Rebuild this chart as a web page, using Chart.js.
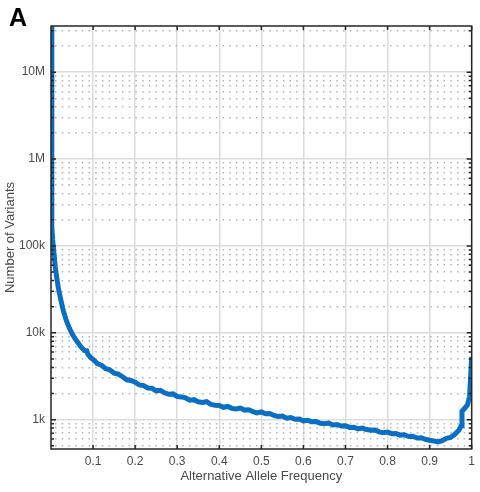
<!DOCTYPE html>
<html>
<head>
<meta charset="utf-8">
<script src="https://cdn.jsdelivr.net/npm/chart.js@4/dist/chart.umd.min.js"></script>
<style>
  html, body { margin: 0; padding: 0; background: #fff; }
  #wrap { width: 480px; height: 492px; position: relative; }
</style>
</head>
<body>
<div id="wrap"><canvas id="chart"></canvas></div>
<script>
'use strict';

// ─── Data ─────────────────────────────────────────────────────────────────────
const PANEL_LABEL = 'A';
const X_TITLE     = 'Alternative Allele Frequency';
const Y_TITLE     = 'Number of Variants';

const xTicks      = [0.1, 0.2, 0.3, 0.4, 0.5, 0.6, 0.7, 0.8, 0.9, 1];
const xTickLabels = ['0.1', '0.2', '0.3', '0.4', '0.5', '0.6', '0.7', '0.8', '0.9', '1'];
const yTicks      = [1e3, 1e4, 1e5, 1e6, 1e7];
const yTickLabels = ['1k', '10k', '100k', '1M', '10M'];
const yMinorTicks = [
  500, 600, 700, 800, 900,
  2e3, 3e3, 4e3, 5e3, 6e3, 7e3, 8e3, 9e3,
  2e4, 3e4, 4e4, 5e4, 6e4, 7e4, 8e4, 9e4,
  2e5, 3e5, 4e5, 5e5, 6e5, 7e5, 8e5, 9e5,
  2e6, 3e6, 4e6, 5e6, 6e6, 7e6, 8e6, 9e6,
  2e7, 3e7,
];

// allele frequency (x) and number of variants (y)
const freqs = [
  0, 0.002, 0.004, 0.006, 0.008, 0.010, 0.0125, 0.015, 0.0175, 0.020,
  0.0225, 0.025, 0.0275, 0.030, 0.035, 0.040, 0.045, 0.050, 0.055, 0.060,
  0.065, 0.070, 0.075, 0.080, 0.085, 0.087, 0.090, 0.095,
  0.10, 0.11, 0.12, 0.13, 0.14, 0.15, 0.16, 0.17, 0.18, 0.19,
  0.20, 0.21, 0.22, 0.23, 0.24, 0.25, 0.26, 0.27, 0.28, 0.29,
  0.30, 0.31, 0.32, 0.33, 0.34, 0.35, 0.36, 0.37, 0.38, 0.39,
  0.40, 0.41, 0.42, 0.43, 0.44, 0.45, 0.46, 0.47, 0.48, 0.49,
  0.50, 0.51, 0.52, 0.53, 0.54, 0.55, 0.56, 0.57, 0.58, 0.59,
  0.60, 0.61, 0.62, 0.63, 0.64, 0.65, 0.66, 0.67, 0.68, 0.69,
  0.70, 0.71, 0.72, 0.73, 0.74, 0.75, 0.76, 0.77, 0.78, 0.79,
  0.80, 0.81, 0.82, 0.83, 0.84, 0.85, 0.86, 0.87, 0.88, 0.89,
  0.90, 0.91, 0.92, 0.93, 0.94, 0.95, 0.96, 0.97, 0.975,
  0.977, 0.985, 0.99, 0.995, 1.0,
];
const variants = [
  34000000, 165000, 118000, 92000, 74000, 58000, 47000, 39000, 33000, 28500,
  25000, 22000, 19500, 17500, 14500, 12500, 11000, 9800, 8900, 8200,
  7600, 7000, 6600, 6250, 6200, 5750, 5500, 5150,
  4950, 4420, 4230, 3860, 3760, 3440, 3350, 3120, 2880, 2830,
  2700, 2510, 2470, 2320, 2300, 2150, 2180, 2040, 1960, 1980,
  1850, 1830, 1780, 1680, 1700, 1610, 1580, 1610, 1500, 1470,
  1460, 1390, 1420, 1350, 1330, 1360, 1290, 1300, 1240, 1200,
  1230, 1170, 1180, 1120, 1090, 1100, 1040, 1060, 1010, 1020,
  970, 985, 950, 955, 910, 900, 915, 870, 880, 845,
  850, 815, 820, 785, 800, 770, 755, 760, 725, 710,
  720, 690, 695, 665, 670, 640, 645, 615, 620, 595,
  580, 570, 555, 575, 610, 625, 680, 760, 850,
  1250, 1380, 1480, 1850, 5300,
];

// ─── Plugins ──────────────────────────────────────────────────────────────────
// MATLAB-style box: inward tick marks on all four sides + panel letter
const boxTicks = {
  id: 'boxTicks',
  afterDraw(chart) {
    const { ctx, chartArea: a, scales } = chart;
    const x = scales.x, y = scales.y;
    ctx.save();
    ctx.strokeStyle = '#262626';
    ctx.lineWidth = 1.5;
    ctx.beginPath();
    xTicks.forEach((v) => {
      const px = x.getPixelForValue(v);
      ctx.moveTo(px, a.bottom); ctx.lineTo(px, a.bottom - 4);
      ctx.moveTo(px, a.top);    ctx.lineTo(px, a.top + 4);
    });
    yTicks.forEach((v) => {
      const py = y.getPixelForValue(v);
      ctx.moveTo(a.left, py);  ctx.lineTo(a.left + 5, py);
      ctx.moveTo(a.right, py); ctx.lineTo(a.right - 5, py);
    });
    yMinorTicks.forEach((v) => {
      const py = y.getPixelForValue(v);
      ctx.moveTo(a.left, py);  ctx.lineTo(a.left + 3, py);
      ctx.moveTo(a.right, py); ctx.lineTo(a.right - 3, py);
    });
    ctx.stroke();
    ctx.strokeRect(a.left, a.top, a.right - a.left, a.bottom - a.top);

    ctx.fillStyle = '#000';
    ctx.font = 'bold 25px "Liberation Sans", Arial, sans-serif';
    ctx.textBaseline = 'alphabetic';
    ctx.fillText(PANEL_LABEL, 9, 26);
    ctx.restore();
  },
};

// ─── Chart ────────────────────────────────────────────────────────────────────
const FONT = { family: '"Liberation Sans", Arial, sans-serif', size: 12 };

new Chart(document.getElementById('chart'), {
  type: 'line',
  data: {
    datasets: [{
      data: freqs.map((f, i) => ({ x: f, y: variants[i] })),
      borderColor: '#0a6fc2',
      borderWidth: 5,
      pointRadius: 0,
      tension: 0,
      fill: false,
    }],
  },
  options: {
    responsive: true,
    maintainAspectRatio: false,
    animation: false,
    layout: { padding: { top: 26, right: 7, left: 0, bottom: 0 } },
    plugins: { legend: { display: false }, tooltip: { enabled: false } },
    scales: {
      x: {
        type: 'linear',
        min: 0,
        max: 1,
        afterBuildTicks: (s) => { s.ticks = xTicks.map((v) => ({ value: v })); },
        afterFit: (s) => { s.height = 43; },
        ticks: {
          font: FONT,
          color: '#4a4a4a',
          padding: 5,
          maxRotation: 0,
          autoSkip: false,
          callback: (v) => xTickLabels[xTicks.indexOf(v)] ?? '',
        },
        grid: { color: '#dcdcdc', lineWidth: 1.5, drawTicks: false },
        border: { display: false },
        title: {
          display: true,
          text: X_TITLE,
          font: { family: FONT.family, size: 13 },
          color: '#4a4a4a',
          padding: { top: 0, bottom: 8 },
        },
      },
      y: {
        type: 'logarithmic',
        min: 460,
        max: 34000000,
        afterBuildTicks: (s) => { s.ticks = yTicks.map((v) => ({ value: v })); },
        afterFit: (s) => { s.width = 51; },
        ticks: {
          font: FONT,
          color: '#4a4a4a',
          padding: 6,
          autoSkip: false,
          callback: (v) => yTickLabels[yTicks.indexOf(v)] ?? '',
        },
        grid: { color: '#dcdcdc', lineWidth: 1.5, drawTicks: false },
        border: { display: false },
        title: {
          display: true,
          text: Y_TITLE,
          font: { family: FONT.family, size: 13 },
          color: '#4a4a4a',
          padding: { top: 3, bottom: 3 },
        },
      },
      // minor grid only: dotted rows at 2..9 x 10^n
      yMinor: {
        type: 'logarithmic',
        position: 'left',
        min: 460,
        max: 34000000,
        afterBuildTicks: (s) => { s.ticks = yMinorTicks.map((v) => ({ value: v })); },
        afterFit: (s) => { s.width = 0; },
        ticks: { display: false },
        grid: { color: '#b4b4b4', lineWidth: 1.5, drawTicks: false },
        border: { display: false, dash: [1.5, 5.2], dashOffset: -4 },
      },
    },
  },
  plugins: [boxTicks],
});
</script>
</body>
</html>
